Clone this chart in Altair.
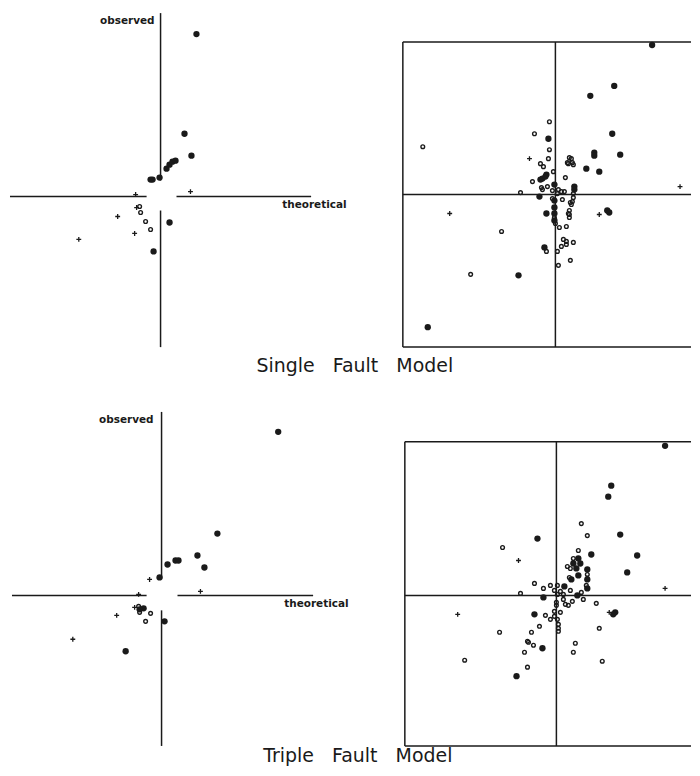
import altair as alt
import pandas as pd

# ---------------- data (offsets from the crossing point of the axes) ----------------
# Single fault model, left panel
A_filled_x = [36, 24, 31, 6, 9, 12, 15, -1, -10, -8, 9, -7]
A_filled_y = [163, 63, 41, 28, 32, 35, 36, 19, 17, 17, -26, -55]
A_open_x = [-21, -20, -15, -10]
A_open_y = [-10, -16, -25, -33]
A_plus_x = [-24, -43, -26, -82, 30, -25]
A_plus_y = [-11, -20, -37, -43, 5, 2]

# Single fault model, right panel
B_filled_x = [97, 59, 35, 57, -7, 39, 39, 65, 31, 44, -9, -15, -13, -10, -1, 19, 19, -16,
              -9, -1, -1, -1, -1, 52, 54, -11, -37, -128]
B_filled_y = [150, 109, 99, 61, 56, 42, 39, 40, 26, 23, 20, 15, 16, 18, 10, 8, 5, -2,
              -19, -6, -13, -19, -26, -16, -18, -53, -81, -133]
B_open_x = [-6, -21, -133, -6, -7, 14, 16, 12, 17, 13, 18, -15, -12, -2, 10, -23, -14, -13,
            -8, -35, -3, 3, 6, 9, 2, -3, 7, 18, 18, 17, 16, 15, 14, 14, 14, 13, -1, 0, 4, 11,
            -54, 8, 11, 6, 11, 18, -9, 2, 15, 3, -85]
B_open_y = [73, 61, 48, 45, 36, 37, 36, 32, 32, 31, 30, 31, 28, 23, 17, 13, 7, 5,
            8, 2, 4, 5, 3, 3, 1, -4, -5, 1, -3, -7, -10, -8, -16, -20, -23, -19, -23, -29, -33, -32,
            -37, -45, -47, -52, -50, -48, -57, -57, -66, -71, -80]
B_plus_x = [-26, -106, 44, 125]
B_plus_y = [36, -19, -20, 8]

# Triple fault model, left panel
C_filled_x = [117, 56, 36, 43, 14, 17, 6, -2, -18, -22, 3, -36]
C_filled_y = [164, 62, 40, 28, 35, 35, 31, 18, -13, -14, -26, -56]
C_open_x = [-23, -22, -11, -16]
C_open_y = [-11, -17, -18, -26]
C_plus_x = [-12, 39, -23, -27, -45, -89]
C_plus_y = [16, 4, 1, -12, -20, -44]

# Triple fault model, right panel
D_filled_x = [109, 55, 52, 64, -19, 35, 81, 71, 22, 24, 20, 17, 22, 15, 31, 31, 31, 8,
              -13, -22, -14, -40, 59, 57, 21]
D_filled_y = [150, 110, 99, 61, 57, 41, 40, 23, 37, 32, 27, 32, 20, 16, 26, 16, 7, 9,
              -2, -19, -53, -81, -17, -19, 0]
D_open_x = [25, 31, -54, 22, 17, 11, 14, 13, 31, 30, -22, -13, -6, 1, -2, 4, 14, 1, 7, -36,
            25, 27, 7, 9, 12, 16, 0, 0, -2, 4, -2, 1, 2, 2, 2, -11, -6, 40, -17, 43,
            -57, -25, -29, -28, -23, 19, 17, -32, 46, -92, -29]
D_open_y = [72, 60, 48, 45, 37, 29, 27, 18, 21, 10, 12, 7, 10, 10, 5, 4, 5, 1, 1, 2,
            3, -4, -4, -9, -10, -6, -7, -10, -16, -17, -21, -24, -29, -36, -33, -20, -24, -8, -31, -33,
            -37, -37, -46, -47, -50, -48, -57, -57, -66, -65, -72]
D_plus_x = [-38, -99, 109, 53]
D_plus_y = [35, -19, 7, -17]

TITLE_1 = "Single\u00a0\u00a0 Fault\u00a0\u00a0 Model"
TITLE_2 = "Triple\u00a0\u00a0 Fault\u00a0\u00a0 Model"
LABEL_X = "theoretical"
LABEL_Y = "observed"

INK = "#1a1a1a"
PLUS = "M-1,0L1,0M0,-1L0,1"


def pts(xs, ys):
    return pd.DataFrame({"x": xs, "y": ys})


def segs(rows):
    return pd.DataFrame(rows, columns=["x", "x2", "y", "y2"])


def panel(xdom, ydom, w, h, frame, filled, opened, plus, labels=None):
    xs = alt.Scale(domain=xdom, nice=False, zero=False)
    ys = alt.Scale(domain=ydom, nice=False, zero=False)
    layers = [
        alt.Chart(segs(frame)).mark_rule(color=INK, strokeWidth=1.5).encode(
            x=alt.X("x:Q", scale=xs, axis=None), x2="x2",
            y=alt.Y("y:Q", scale=ys, axis=None), y2="y2"),
        alt.Chart(opened).mark_point(filled=False, color=INK, size=14, strokeWidth=1.4, opacity=1).encode(
            x="x:Q", y="y:Q"),
        alt.Chart(filled).mark_point(filled=True, color=INK, size=40, opacity=1).encode(
            x="x:Q", y="y:Q"),
        alt.Chart(plus).mark_point(shape=PLUS, filled=False, color=INK, size=24, strokeWidth=1.3,
                                   opacity=1).encode(x="x:Q", y="y:Q"),
    ]
    if labels is not None:
        for (tx, ty, txt, al) in labels:
            layers.append(
                alt.Chart(pd.DataFrame({"x": [tx], "y": [ty], "t": [txt]})).mark_text(
                    align=al, baseline="middle", font="DejaVu Sans", fontSize=10.5,
                    fontWeight="bold", color=INK).encode(x="x:Q", y="y:Q", text="t:N"))
    return alt.layer(*layers).properties(width=w, height=h)


frameA = [(-151, -14, 0, 0), (16, 151, 0, 0), (0, 0, 16, 184), (0, 0, -14, -151)]
frameB = [(-153, 136, 153, 153), (-153, 136, -153, -153), (-153, -153, -153, 153),
          (0, 0, -153, 153), (-153, 136, 0, 0)]
frameC = [(-150, -15, 0, 0), (16, 152, 0, 0), (0, 0, 17, 184), (0, 0, -15, -151)]
frameD = [(-152, 135, 154, 154), (-152, 135, -151, -151), (-152, -152, -151, 154),
          (0, 0, -151, 154), (-152, 135, 0, 0)]

pA = panel([-153, 189], [-152, 188], 342, 340, frameA,
           pts(A_filled_x, A_filled_y), pts(A_open_x, A_open_y), pts(A_plus_x, A_plus_y),
           labels=[(-6, 176, LABEL_Y, "right"), (122, -8, LABEL_X, "left")])
pB = panel([-153, 136], [-154, 186], 289, 340, frameB,
           pts(B_filled_x, B_filled_y), pts(B_open_x, B_open_y), pts(B_plus_x, B_plus_y))
pC = panel([-154, 188], [-151, 190], 342, 341, frameC,
           pts(C_filled_x, C_filled_y), pts(C_open_x, C_open_y), pts(C_plus_x, C_plus_y),
           labels=[(-8, 176, LABEL_Y, "right"), (123, -9, LABEL_X, "left")])
pD = panel([-152, 135], [-151, 190], 287, 341, frameD,
           pts(D_filled_x, D_filled_y), pts(D_open_x, D_open_y), pts(D_plus_x, D_plus_y))

title_style = dict(orient="bottom", anchor="middle", font="DejaVu Sans", fontSize=19,
                   fontWeight="normal", color=INK)

row1 = alt.hconcat(pA, pB, spacing=53).properties(
    title=alt.TitleParams(TITLE_1, offset=9, dx=5, **title_style))
row2 = alt.hconcat(pC, pD, spacing=55).properties(
    title=alt.TitleParams(TITLE_2, offset=0, dx=8, **title_style))

chart = alt.vconcat(row1, row2, spacing=30).properties(
    padding={"left": 0, "top": 0, "right": 0, "bottom": 0}).configure_view(stroke=None)

chart.save("out.html", embed_options={"renderer": "svg", "actions": False})
